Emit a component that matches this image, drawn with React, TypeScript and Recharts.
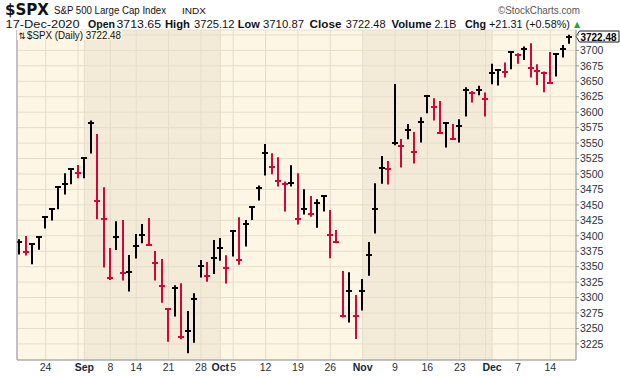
import React from 'react';
import {
  ComposedChart,
  Bar,
  XAxis,
  YAxis,
  CartesianGrid,
  ReferenceArea,
  ReferenceLine,
} from 'recharts';

// trading days shown, Aug 18 .. Dec 17 2020
const dates = [
  'Aug 18', 'Aug 19', 'Aug 20', 'Aug 21', 'Aug 24', 'Aug 25', 'Aug 26', 'Aug 27', 'Aug 28', 'Aug 31',
  'Sep 1', 'Sep 2', 'Sep 3', 'Sep 4', 'Sep 8', 'Sep 9', 'Sep 10', 'Sep 11', 'Sep 14', 'Sep 15',
  'Sep 16', 'Sep 17', 'Sep 18', 'Sep 21', 'Sep 22', 'Sep 23', 'Sep 24', 'Sep 25', 'Sep 28', 'Sep 29',
  'Sep 30', 'Oct 1', 'Oct 2', 'Oct 5', 'Oct 6', 'Oct 7', 'Oct 8', 'Oct 9', 'Oct 12', 'Oct 13',
  'Oct 14', 'Oct 15', 'Oct 16', 'Oct 19', 'Oct 20', 'Oct 21', 'Oct 22', 'Oct 23', 'Oct 26', 'Oct 27',
  'Oct 28', 'Oct 29', 'Oct 30', 'Nov 2', 'Nov 3', 'Nov 4', 'Nov 5', 'Nov 6', 'Nov 9', 'Nov 10',
  'Nov 11', 'Nov 12', 'Nov 13', 'Nov 16', 'Nov 17', 'Nov 18', 'Nov 19', 'Nov 20', 'Nov 23', 'Nov 24',
  'Nov 25', 'Nov 27', 'Nov 30', 'Dec 1', 'Dec 2', 'Dec 3', 'Dec 4', 'Dec 7', 'Dec 8', 'Dec 9',
  'Dec 10', 'Dec 11', 'Dec 14', 'Dec 15', 'Dec 16', 'Dec 17',
];

const highs = [
  3394.4, 3399.8, 3387.9, 3398.7, 3431.1, 3444.0, 3479.6, 3501.2, 3509.3, 3514.7,
  3526.6, 3586.4, 3564.9, 3478.5, 3380.4, 3423.5, 3425.7, 3369.0, 3403.0, 3419.2,
  3428.9, 3375.5, 3362.5, 3282.7, 3319.9, 3323.1, 3278.4, 3306.9, 3360.9, 3357.7,
  3393.2, 3396.5, 3368.4, 3409.4, 3429.9, 3425.6, 3447.2, 3481.2, 3548.6, 3533.5,
  3527.1, 3487.7, 3514.1, 3501.2, 3475.3, 3464.5, 3459.1, 3465.0, 3441.8, 3409.4,
  3343.1, 3340.9, 3304.2, 3330.2, 3390.0, 3485.0, 3529.2, 3521.1, 3645.8, 3556.7,
  3581.0, 3568.1, 3591.8, 3627.4, 3622.6, 3618.2, 3584.3, 3581.0, 3588.6, 3640.4,
  3634.4, 3642.6, 3631.8, 3678.2, 3669.5, 3680.3, 3698.1, 3695.4, 3706.2, 3711.6,
  3677.6, 3665.8, 3697.6, 3695.4, 3708.9, 3725.12,
];

const lows = [
  3369.6, 3368.0, 3353.9, 3377.6, 3411.6, 3424.6, 3443.0, 3466.7, 3483.4, 3493.1,
  3493.1, 3533.0, 3426.7, 3348.5, 3328.6, 3377.1, 3327.5, 3309.7, 3363.1, 3387.9,
  3383.6, 3327.5, 3291.8, 3228.7, 3269.2, 3232.5, 3209.8, 3227.1, 3332.3, 3325.8,
  3338.2, 3359.8, 3322.6, 3366.3, 3353.3, 3382.5, 3425.6, 3456.9, 3497.4, 3499.5,
  3479.6, 3439.1, 3479.6, 3418.1, 3434.3, 3431.0, 3413.2, 3439.1, 3363.6, 3387.9,
  3267.6, 3259.5, 3233.0, 3278.9, 3335.5, 3403.5, 3484.4, 3482.8, 3546.5, 3510.3,
  3556.2, 3516.8, 3550.8, 3598.3, 3586.4, 3566.5, 3542.7, 3556.2, 3550.8, 3592.9,
  3615.5, 3627.5, 3593.0, 3645.3, 3643.1, 3656.1, 3669.5, 3678.2, 3684.6, 3656.1,
  3644.2, 3632.3, 3646.9, 3657.7, 3688.4, 3710.87,
];

const closes = [
  3390.6, 3373.3, 3386.3, 3397.6, 3430.5, 3443.5, 3479.1, 3484.5, 3508.2, 3501.2,
  3526.0, 3582.1, 3455.9, 3427.8, 3332.3, 3398.7, 3340.4, 3342.0, 3384.1, 3401.9,
  3385.2, 3356.6, 3319.4, 3281.6, 3316.1, 3236.3, 3246.5, 3297.8, 3351.7, 3335.5,
  3363.6, 3380.9, 3348.5, 3408.4, 3360.9, 3419.2, 3446.1, 3477.4, 3534.6, 3512.0,
  3489.3, 3483.4, 3485.0, 3427.8, 3443.4, 3435.4, 3453.7, 3463.9, 3401.4, 3390.0,
  3270.3, 3310.7, 3270.3, 3311.3, 3369.5, 3444.0, 3510.3, 3508.7, 3550.8, 3545.4,
  3571.8, 3536.2, 3584.8, 3626.9, 3609.1, 3567.0, 3582.1, 3557.3, 3578.3, 3635.5,
  3630.6, 3636.1, 3622.1, 3663.1, 3668.5, 3665.2, 3697.0, 3692.7, 3701.9, 3672.2,
  3666.8, 3663.1, 3648.0, 3694.4, 3701.9, 3722.48,
];

// x ticks (index into dates) and their labels; '' = grid line only
const xTicks = [4, 9, 10, 14, 18, 23, 28, 31, 33, 38, 43, 48, 53, 58, 63, 68, 72, 73, 77, 82];
const xTickLabels = ['24', '', 'Sep', '8', '14', '21', '28', 'Oct', '5', '12', '19', '26', 'Nov', '9', '16', '23', '', 'Dec', '7', '14'];
const monthLabels = ['Sep', 'Oct', 'Nov', 'Dec'];

const yTicks = [3225, 3250, 3275, 3300, 3325, 3350, 3375, 3400, 3425, 3450, 3475, 3500, 3525, 3550, 3575, 3600, 3625, 3650, 3675, 3700, 3725];

// shaded months (Sep, Nov) as [first day index, first day of next month index]
const shadedMonths = [[10, 31], [53, 73]];

const xDomain = [-0.42, 85.97];
const yDomain = [3199, 3733];

const FONT = '"Liberation Sans", Arial, sans-serif';
const UP = '#000000';
const DOWN = '#d2063a';

const data = dates.map((d, i) => ({
  i,
  date: d,
  range: [lows[i], highs[i]],
  high: highs[i],
  low: lows[i],
  close: closes[i],
  up: i === 0 || closes[i] >= closes[i - 1],
}));

function HlcBar(props: any) {
  const { x, y, width, height, payload } = props;
  if (x == null || y == null || !payload) return null;
  const top = Math.min(y, y + height);
  const bot = Math.max(y, y + height);
  const span = payload.high - payload.low;
  const cy = span > 0 ? top + ((payload.high - payload.close) / span) * (bot - top) : top;
  const cx = Math.round(x + width / 2);
  const ty = Math.round(cy);
  const color = payload.up ? UP : DOWN;
  return (
    <g>
      <line x1={cx} x2={cx} y1={top} y2={bot} stroke={color} strokeWidth={2} />
      <line x1={cx - 3} x2={cx + 3} y1={ty} y2={ty} stroke={color} strokeWidth={2} />
    </g>
  );
}

function XTick(props: any) {
  const { x, y, payload } = props;
  const idx = xTicks.indexOf(payload.value);
  const label = idx >= 0 ? xTickLabels[idx] : '';
  if (!label) return null;
  const isMonth = monthLabels.includes(label);
  return (
    <text
      x={x}
      y={y}
      dy={9}
      textAnchor="middle"
      fontFamily={FONT}
      fontSize={10.5}
      fontWeight={isMonth ? 700 : 400}
      fill={isMonth ? '#13283a' : '#24313c'}
    >
      {label}
    </text>
  );
}

function PriceTag(props: any) {
  const vb = props.viewBox;
  if (!vb) return null;
  const x0 = vb.x + vb.width;
  const y0 = vb.y;
  return (
    <g>
      <path
        d={`M${x0} ${y0} L${x0 + 3.5} ${y0 - 5.5} H${x0 + 43} V${y0 + 5.5} H${x0 + 3.5} Z`}
        fill="#ffffff"
        stroke="#1a1a1a"
        strokeWidth={1}
      />
      <text
        x={x0 + 4.5}
        y={y0 + 4}
        fontFamily={FONT}
        fontSize={10.5}
        fontWeight={700}
        fill="#000"
        textLength={36}
        lengthAdjust="spacingAndGlyphs"
      >
        {closes[closes.length - 1].toFixed(2)}
      </text>
    </g>
  );
}

function Header() {
  const seg = (t: string, x: number, w: number, bold = false) => (
    <text
      x={x}
      y={28}
      fontFamily={FONT}
      fontSize={11}
      fontWeight={bold ? 700 : 400}
      fill="#111"
      textLength={w}
      lengthAdjust="spacingAndGlyphs"
    >
      {t}
    </text>
  );
  return (
    <svg
      width={620}
      height={376}
      style={{ position: 'absolute', left: 0, top: 0, pointerEvents: 'none' }}
    >
      <text x={5} y={15} fontFamily='"DejaVu Sans", sans-serif' fontSize={15} fontWeight={700} fill="#111" textLength={44} lengthAdjust="spacingAndGlyphs">
        $SPX
      </text>
      <text x={54} y={14} fontFamily={FONT} fontSize={10} fill="#111" textLength={112} lengthAdjust="spacingAndGlyphs">
        S&amp;P 500 Large Cap Index
      </text>
      <text x={182} y={14} fontFamily={FONT} fontSize={9} fill="#111" textLength={24} lengthAdjust="spacingAndGlyphs">
        INDX
      </text>
      <text x={498} y={14} fontFamily={FONT} fontSize={11} fill="#555" textLength={82} lengthAdjust="spacingAndGlyphs">
        ©StockCharts.com
      </text>
      {seg('17-Dec-2020', 5.6, 74)}
      {seg('Open', 88, 27, true)}
      {seg('3713.65', 116.5, 44.5)}
      {seg('High', 165, 25, true)}
      {seg('3725.12', 194, 40.5)}
      {seg('Low', 237.7, 22, true)}
      {seg('3710.87', 263, 41)}
      {seg('Close', 309.6, 32, true)}
      {seg('3722.48', 345.8, 39.7)}
      {seg('Volume', 391.5, 40, true)}
      {seg('2.1B', 434.4, 22)}
      {seg('Chg', 465, 21, true)}
      {seg('+21.31 (+0.58%)', 489, 81)}
      <text x={574} y={27} fontFamily='"DejaVu Sans", sans-serif' fontSize={8} fill="#2e9e3e">
        ▲
      </text>
      {/* series legend inside the plot */}
      <rect x={17} y={30} width={105} height={10} fill="#fcf5e1" />
      <text x={18.5} y={38.5} fontFamily='"DejaVu Sans", sans-serif' fontSize={9} fill="#111" textLength={7} lengthAdjust="spacingAndGlyphs">
        ⇅
      </text>
      <text x={27} y={38.5} fontFamily={FONT} fontSize={10.5} fill="#111" textLength={94} lengthAdjust="spacingAndGlyphs">
        $SPX (Daily) 3722.48
      </text>
    </svg>
  );
}

export default function App() {
  return (
    <div style={{ position: 'absolute', left: 0, top: 0, width: 620, height: 376, background: '#fff' }}>
      <ComposedChart
        width={620}
        height={376}
        data={data}
        margin={{ top: 30, right: 0, left: 17, bottom: 0 }}
      >
        <CartesianGrid stroke="#e5ddcb" fill="#fdf6e4" />
        {shadedMonths.map(([a, b], k) => (
          <ReferenceArea
            key={k}
            x1={a}
            x2={b}
            fill="#e6ddca"
            fillOpacity={0.45}
            stroke="none"
            ifOverflow="hidden"
          />
        ))}
        <XAxis
          type="number"
          dataKey="i"
          domain={xDomain}
          allowDataOverflow
          ticks={xTicks}
          interval={0}
          height={16}
          tickSize={2}
          tickMargin={0}
          tickLine={false}
          axisLine={{ stroke: '#8e989e' }}
          tick={<XTick />}
        />
        <YAxis
          orientation="right"
          type="number"
          domain={yDomain}
          allowDataOverflow
          ticks={yTicks}
          interval={0}
          width={44}
          tickSize={3}
          tickMargin={1}
          axisLine={{ stroke: '#8e989e' }}
          tickLine={{ stroke: '#8e989e' }}
          tick={{ fontSize: 10.5, fill: '#26323c', fontFamily: FONT }}
          tickFormatter={(v: number) => (v === 3725 ? '' : String(v))}
        />
        <ReferenceLine x={xDomain[0]} stroke="#8e989e" ifOverflow="visible" />
        <Bar dataKey="range" barSize={7} isAnimationActive={false} shape={<HlcBar />} />
        <ReferenceLine
          y={closes[closes.length - 1]}
          stroke="none"
          ifOverflow="visible"
          label={<PriceTag />}
        />
      </ComposedChart>
      <Header />
    </div>
  );
}
